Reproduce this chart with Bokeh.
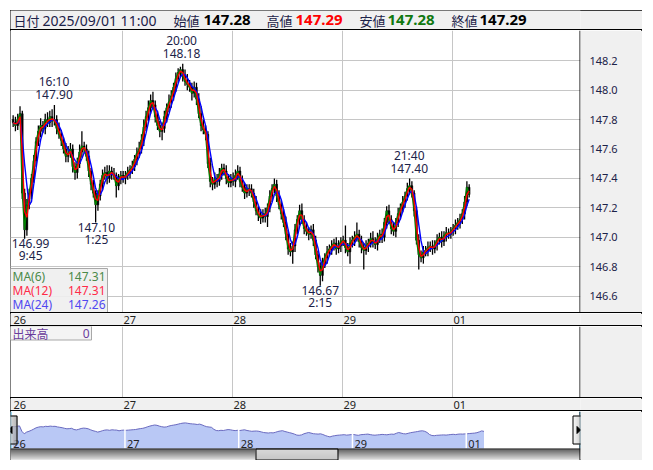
import numpy as np
import pandas as pd
from bokeh.plotting import figure
from bokeh.models import Range1d, FixedTicker, PrintfTickFormatter, ColumnDataSource, Spacer
from bokeh.layouts import column
from bokeh.core.properties import value
from bokeh.embed import file_html
from bokeh.resources import INLINE

# ---------------- data ----------------
DAY_LABELS = ["26", "27", "28", "29", "01"]
DAY_START_H = [0, 24, 48, 72, 96]        # chart hours; an FX day starts 07:00
BAR_HOURS = 0.5                          # 30-minute bars
FIRST_OPEN = 147.80
CLOSE = [
    147.78, 147.76, 147.80, 147.84, 147.30, 147.05, 147.22, 147.30,
    147.40, 147.52, 147.65, 147.72, 147.76, 147.74, 147.80, 147.78,
    147.82, 147.79, 147.80, 147.74, 147.70, 147.66, 147.60, 147.55,
    147.57, 147.60, 147.48, 147.44, 147.50, 147.58, 147.62, 147.60,
    147.55, 147.45, 147.36, 147.30, 147.22, 147.28, 147.36, 147.42,
    147.44, 147.40, 147.45, 147.43, 147.42, 147.35, 147.40, 147.42,
    147.40, 147.42, 147.44, 147.46, 147.48, 147.53, 147.57, 147.60,
    147.66, 147.75, 147.82, 147.88, 147.93, 147.90, 147.82, 147.76,
    147.72, 147.74, 147.82, 147.88, 147.92, 147.96, 148.02, 148.08,
    148.12, 148.14, 148.10, 148.06, 148.04, 148.02, 147.98, 148.02,
    147.94, 147.84, 147.76, 147.73, 147.70, 147.50, 147.38, 147.36,
    147.40, 147.38, 147.43, 147.47, 147.45, 147.40, 147.37, 147.40,
    147.38, 147.42, 147.45, 147.38, 147.34, 147.30, 147.32, 147.33,
    147.30, 147.24, 147.18, 147.15, 147.13, 147.16, 147.14, 147.20,
    147.28, 147.33, 147.36, 147.28, 147.22, 147.16, 147.10, 147.02,
    146.92, 146.90, 146.94, 147.05, 147.12, 147.18, 147.12, 147.06,
    147.04, 147.02, 147.05, 146.98, 146.88, 146.80, 146.74, 146.82,
    146.86, 146.90, 146.92, 146.94, 146.96, 146.92, 146.94, 146.97,
    146.98, 146.93, 146.90, 146.96, 146.98, 147.00, 147.02, 146.97,
    146.93, 146.91, 146.94, 146.96, 146.99, 146.97, 146.95, 146.99,
    147.02, 147.00, 147.10, 147.18, 147.12, 147.06, 147.04, 147.10,
    147.16, 147.20, 147.24, 147.28, 147.33, 147.35, 147.30, 147.18,
    146.98, 146.88, 146.86, 146.90, 146.91, 146.93, 146.94, 146.92,
    146.95, 146.98, 147.00, 146.97, 147.01, 147.03, 147.02, 147.04,
    147.06, 147.08, 147.10, 147.12, 147.16, 147.24, 147.34, 147.29,
]
# wick lengths in 0.01 yen beyond the candle body
UP_WICK = [
    3, 4, 4, 5, 2, 3, 4, 3,   3, 4, 3, 4, 5, 3, 4, 5,   4, 5, 10, 3, 4, 3, 2, 4,
    5, 4, 3, 3, 4, 5, 10, 3,  3, 4, 2, 3, 2, 4, 3, 4,   4, 5, 4, 3, 4, 2, 3, 3,
    3, 3, 4, 3, 4, 3, 4, 5,   4, 5, 4, 5, 4, 6, 3, 4,   3, 4, 4, 3, 5, 4, 3, 4,
    3, 2, 4, 4, 5, 3, 3, 4,   3, 4, 5, 4, 3, 2, 4, 3,   4, 3, 4, 3, 3, 4, 3, 3,
    4, 4, 4, 3, 4, 3, 4, 3,   3, 3, 4, 3, 4, 3, 4, 3,   4, 3, 4, 3, 4, 3, 3, 4,
    3, 4, 3, 4, 3, 4, 5, 3,   4, 3, 3, 4, 3, 3, 3, 4,   3, 4, 3, 4, 3, 4, 4, 3,
    3, 10, 3, 4, 3, 4, 8, 3,  4, 3, 4, 3, 4, 5, 3, 4,   3, 4, 3, 3, 4, 3, 4, 3,
    4, 3, 4, 3, 4, 5, 3, 2,   3, 4, 3, 4, 3, 4, 3, 4,   3, 4, 3, 4, 3, 4, 3, 3,
    3, 4, 3, 4, 3, 4, 4, 2,
]
DN_WICK = [
    3, 4, 3, 3, 4, 6, 4, 3,   4, 3, 4, 3, 4, 3, 4, 3,   3, 4, 3, 4, 3, 4, 3, 4,
    4, 3, 4, 5, 4, 3, 4, 3,   3, 4, 4, 3, 12, 4, 3, 4,  3, 4, 3, 4, 3, 8, 3, 4,
    3, 4, 3, 4, 3, 3, 4, 3,   3, 4, 3, 3, 4, 3, 4, 3,   4, 6, 3, 4, 3, 4, 3, 3,
    3, 3, 4, 3, 4, 3, 5, 3,   4, 3, 4, 3, 4, 3, 4, 4,   3, 4, 3, 4, 3, 4, 3, 3,
    3, 4, 3, 4, 3, 4, 3, 4,   3, 4, 3, 4, 4, 3, 4, 7,   3, 4, 3, 4, 3, 4, 3, 4,
    4, 3, 8, 4, 3, 4, 3, 4,   3, 4, 3, 4, 3, 4, 7, 4,   3, 4, 3, 4, 3, 4, 3, 4,
    3, 4, 3, 8, 3, 4, 3, 4,   4, 13, 3, 4, 3, 4, 3, 4,  3, 4, 3, 4, 3, 4, 3, 4,
    3, 4, 3, 4, 3, 4, 3, 4,   3, 10, 3, 4, 3, 4, 3, 4,  3, 4, 3, 4, 3, 4, 3, 3,
    3, 4, 3, 4, 3, 4, 3, 2,
]
PRICE_TICKS = [146.6, 146.8, 147.0, 147.2, 147.4, 147.6, 147.8, 148.0, 148.2]
EXT_DAY = [0, 0, 0, 1, 2, 3]
EXT_TIME = ["9:45", "16:10", "1:25", "20:00", "2:15", "21:40"]
EXT_PRICE = [146.99, 147.90, 147.10, 148.18, 146.67, 147.40]
EXT_KIND = ["low", "high", "low", "high", "low", "high"]
MA_NAMES = ["MA(6)", "MA(12)", "MA(24)"]
MA_LAST = [147.31, 147.31, 147.26]
MA_BARS = [1, 2, 4]        # 6 / 12 / 24 five-minute bars = 1 / 2 / 4 thirty-minute bars
HEADER_DATE = "2025/09/01 11:00"
HEADER_LABELS = ["始値", "高値", "安値", "終値"]
HEADER_VALUES = [147.28, 147.29, 147.28, 147.29]
VOLUME_NAME = "出来高"
VOLUME_LAST = 0

# ---------------- styles / layout constants (page pixels) ----------------
GRAY = "#f0f0f0"
GRID = "#c6c6c6"
TXT = "#1c2248"
FONT = "Noto Sans"
JFONT = "Noto Sans CJK JP"
MA_LINE = ["#008000", "#ff0000", "#0000ff"]
MA_TXT = ["#4a8a4a", "#ff2a48", "#5048f0"]

W = 632
FR_L, FR_R = 10, 580                      # plot frames span these page x
PX_X0, PX_PER_H = 11.5, 110 / 24          # main panes: page x of hour 0, px per hour
P_REF, Y_REF, PX_PER_YEN = 147.0, 236.7, 147.0
NAV_X0, NAV_PX_PER_H = 10.7, 4.74
NAV_P_REF, NAV_Y_REF, NAV_PX_PER_YEN = 148.18, 422.0, 10.0
EXT_XOFF = {"9:45": 6}


def hrange(a, b, x0=PX_X0, s=PX_PER_H):
    return Range1d((a - x0) / s, (b - x0) / s)


def prange(ytop, ybot, pref, yref, s):
    return Range1d(pref - (ybot - yref) / s, pref + (yref - ytop) / s)


def base_fig(y0, y1, xr, yr, **kw):
    opts = dict(width=W, height=y1 - y0, x_range=xr, y_range=yr, output_backend="svg",
                toolbar_location=None, x_axis_location=None, y_axis_location=None,
                min_border_left=0, min_border_right=W - (FR_R - FR_L), min_border_top=0,
                min_border_bottom=0, outline_line_color=None, border_fill_color=GRAY,
                background_fill_color="white")
    opts.update(kw)
    p = figure(**opts)
    p.extra_x_ranges = {"ux": Range1d(FR_L, FR_R)}
    p.extra_y_ranges = {"uy": Range1d(y1, y0)}
    return p


def hline():
    return Spacer(width=W, height=1, styles={"background-color": "black"})


U = dict(x_range_name="ux", y_range_name="uy")

# ---------------- derived series ----------------
n = len(CLOSE)
t = np.arange(n) * BAR_HOURS + BAR_HOURS / 2
close = np.array(CLOSE)
open_ = np.concatenate([[FIRST_OPEN], close[:-1]])
high = np.maximum(open_, close) + np.array(UP_WICK) / 100
low = np.minimum(open_, close) - np.array(DN_WICK) / 100
ma = [pd.Series(close).rolling(w, min_periods=1).mean().to_numpy() for w in MA_BARS]


def ext_hour(day, s):
    hh, mm = (int(v) for v in s.split(":"))
    return day * 24 + ((hh - 7) % 24) + mm / 60


ext_h = [ext_hour(d, s) for d, s in zip(EXT_DAY, EXT_TIME)]

# ---------------- header (page y 10..29) ----------------
header = base_fig(10, 29, Range1d(FR_L, FR_R), Range1d(29, 10), background_fill_color=GRAY)
header.grid.visible = False
hy = 19.5
header.text(x=[13], y=[hy], text=["日付"], text_font=value(JFONT), text_font_size="13px",
            text_color=TXT, text_baseline="middle")
header.text(x=[42], y=[hy], text=[HEADER_DATE], text_font=value(FONT), text_font_size="14px",
            text_color=TXT, text_baseline="middle")
lab_x = [173, 266, 359, 451]
val_x = [203, 295, 387, 479]
val_col = ["black", "#ff0000", "#107810", "black"]
header.text(x=lab_x, y=[hy] * 4, text=HEADER_LABELS, text_font=value(JFONT), text_font_size="13px",
            text_color=TXT, text_baseline="middle")
header.text(x=val_x, y=[hy] * 4, text=[f"{v:.2f}" for v in HEADER_VALUES], text_font=value(FONT),
            text_font_size="15px", text_font_style="bold", text_color=val_col, text_baseline="middle")

# ---------------- main price pane (page y 30..312) ----------------
main = base_fig(30, 312, hrange(FR_L, FR_R), prange(30, 312, P_REF, Y_REF, PX_PER_YEN),
                y_axis_location="right")
ax = main.yaxis[0]
ax.ticker = FixedTicker(ticks=PRICE_TICKS)
ax.formatter = PrintfTickFormatter(format="%.1f")
ax.major_tick_line_color = None
ax.minor_tick_line_color = None
ax.axis_line_color = None
ax.major_label_standoff = 3
ax.major_label_text_font = FONT
ax.major_label_text_font_size = "11px"
ax.major_label_text_color = TXT
main.ygrid.ticker = FixedTicker(ticks=PRICE_TICKS)
main.xgrid.ticker = FixedTicker(ticks=DAY_START_H[1:])
main.grid.grid_line_color = GRID

main.segment(x0=t, y0=low, x1=t, y1=high, line_color="black", line_width=1.3)
main.vbar(x=t, width=BAR_HOURS * 0.72, top=np.maximum(open_, close), bottom=np.minimum(open_, close),
          fill_color="black", line_color="black", line_width=0.6)
main.line(t, ma[0], line_color=MA_LINE[0], line_width=1.4)
main.line(t, ma[2], line_color=MA_LINE[2], line_width=1.4)
main.line(t, ma[1], line_color=MA_LINE[1], line_width=1.4)

is_hi = [k == "high" for k in EXT_KIND]
ext_src = ColumnDataSource(dict(
    x=ext_h, y=EXT_PRICE, v=[f"{p:.2f}" for p in EXT_PRICE], tm=EXT_TIME,
    ox=[EXT_XOFF.get(s, 0) for s in EXT_TIME],
    ov=[-10 if h else 5 for h in is_hi], ot=[-23 if h else 17 for h in is_hi]))
for col, off in (("v", "ov"), ("tm", "ot")):
    main.text(x="x", y="y", text=col, x_offset="ox", y_offset=off, source=ext_src,
              text_align="center", text_baseline="middle", text_font=value(FONT),
              text_font_size="12px", text_color=TXT)

main.quad(left=[10], right=[107], top=[268], bottom=[312], fill_color="#eeeeee", fill_alpha=0.9,
          line_color="#a8a8a8", **U)
leg_y = [275.5, 290, 304]
main.text(x=[12] * 3, y=leg_y, text=MA_NAMES, text_color=MA_TXT, text_font=value(FONT),
          text_font_size="12px", text_baseline="middle", **U)
main.text(x=[105] * 3, y=leg_y, text=[f"{v:.2f}" for v in MA_LAST], text_color=MA_TXT,
          text_font=value(FONT), text_font_size="12px", text_baseline="middle", text_align="right", **U)
main.segment(x0=[FR_R - 0.5], y0=[30], x1=[FR_R - 0.5], y1=[312], line_color="black", **U)


# ---------------- date rows ----------------
def date_row(y0):
    p = base_fig(y0, y0 + 12, hrange(FR_L, FR_R), Range1d(0, 1), background_fill_color=GRAY)
    p.grid.visible = False
    p.text(x=DAY_START_H, y=[0.5] * len(DAY_START_H), text=DAY_LABELS, x_offset=1.5,
           text_font=value(FONT), text_font_size="11px", text_color="#222222",
           text_baseline="middle", text_align="left")
    return p


row1 = date_row(313)
row2 = date_row(398)

# ---------------- volume pane (page y 326..397) ----------------
vol = base_fig(326, 397, hrange(FR_L, FR_R), Range1d(0, 1))
vol.xgrid.ticker = FixedTicker(ticks=DAY_START_H[1:])
vol.xgrid.grid_line_color = GRID
vol.ygrid.visible = False
vol.quad(left=[10], right=[91], top=[325.5], bottom=[339.5], fill_color="#f4f4f4",
         line_color="#a8a8a8", **U)
vol.text(x=[12], y=[332.5], text=[VOLUME_NAME], text_font=value(JFONT), text_font_size="12px",
         text_color="#6a3c9c", text_baseline="middle", **U)
vol.text(x=[89], y=[332.5], text=[str(VOLUME_LAST)], text_font=value(FONT), text_font_size="12px",
         text_color="#6a3c9c", text_baseline="middle", text_align="right", **U)
vol.segment(x0=[FR_R - 0.5], y0=[326], x1=[FR_R - 0.5], y1=[397], line_color="black", **U)

# ---------------- navigator (page y 411..460) ----------------
nav_yr = prange(411, 460, NAV_P_REF, NAV_Y_REF, NAV_PX_PER_YEN)
nav_base = NAV_P_REF - (448 - NAV_Y_REF) / NAV_PX_PER_YEN
nav = base_fig(411, 460, hrange(FR_L, FR_R, NAV_X0, NAV_PX_PER_H), nav_yr)
nav.grid.visible = False
nav.varea(x=t, y1=np.full(n, nav_base), y2=close, fill_color="#b9c8f5")
nav.line(t, close, line_color="#6a6abf", line_width=1)
nav.segment(x0=DAY_START_H[1:], y0=[nav_base] * 4, x1=DAY_START_H[1:], y1=[nav_yr.end] * 4,
            line_color="white", line_width=1.5)
nav.text(x=DAY_START_H, y=[nav_base] * 5, text=DAY_LABELS, x_offset=2, y_offset=-1,
         text_font=value(FONT), text_font_size="11px", text_color="#222222",
         text_baseline="bottom", text_align="left")
nav.segment(x0=[10.5, FR_R - 0.5], y0=[411, 411], x1=[10.5, FR_R - 0.5], y1=[448, 448],
            line_color="#2aa8e0", line_width=1, **U)

# scrollbar track and thumb (vertical gradients)
rows = np.arange(449, 459)
track = [f"#{int(v):02x}{int(v):02x}{int(v):02x}" for v in np.linspace(0x38, 0xc8, len(rows))]
nav.quad(left=[10] * len(rows), right=[FR_R] * len(rows), top=rows, bottom=rows + 1,
         fill_color=track, line_color=None, **U)
nav.segment(x0=[10], y0=[448.5], x1=[FR_R], y1=[448.5], line_color="black", **U)
thumb = [f"#{int(v):02x}{int(v):02x}{int(v):02x}" for v in np.linspace(0xfc, 0xc4, len(rows))]
nav.quad(left=[255] * len(rows), right=[337] * len(rows), top=rows, bottom=rows + 1,
         fill_color=thumb, line_color=None, **U)
nav.quad(left=[255.5], right=[337.5], top=[448.5], bottom=[459.5], fill_color=None,
         line_color="black", **U)
nav.segment(x0=[FR_R - 0.5], y0=[411], x1=[FR_R - 0.5], y1=[460], line_color="black", **U)

# scroll buttons (horizontal gradients)
for bx0, bx1, tri in ((4, 17, [(8, 429.5), (11.5, 426), (11.5, 433)]),
                      (572, 586, [(580, 429.5), (576.5, 426), (576.5, 433)])):
    cols = np.arange(bx0, bx1)
    shade = [f"#{int(v):02x}{int(v):02x}{int(v):02x}" for v in np.linspace(0xf8, 0x9c, len(cols))]
    nav.quad(left=cols, right=cols + 1, top=[415] * len(cols), bottom=[444] * len(cols),
             fill_color=shade, line_color=None, **U)
    nav.quad(left=[bx0 + 0.5], right=[bx1 - 0.5], top=[415.5], bottom=[443.5], fill_color=None,
             line_color="black", **U)
    nav.patch(x=[q[0] for q in tri], y=[q[1] for q in tri], fill_color="black", line_color="black", **U)

root = column(header, hline(), main, hline(), row1, hline(), vol, hline(), row2, hline(), nav,
              spacing=0, margin=(10, 0, 0, 10),
              styles={"outline": "1px solid black", "outline-offset": "-1px"})

open("out.html", "w").write(file_html(root, INLINE))
